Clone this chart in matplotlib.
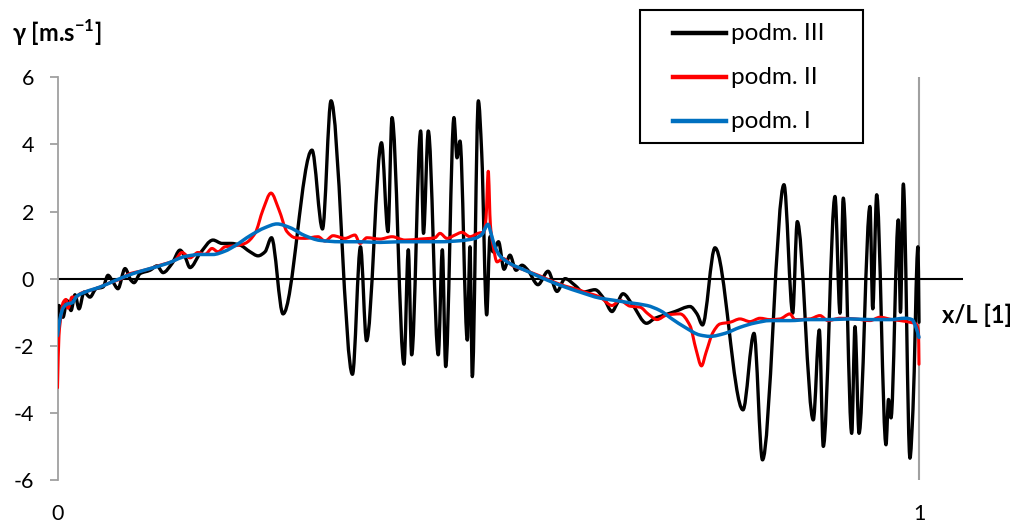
import numpy as np
import matplotlib
matplotlib.use("Agg")
import matplotlib.pyplot as plt
from matplotlib.path import Path
from matplotlib.patches import PathPatch, Rectangle
from matplotlib.lines import Line2D

plt.rcParams['font.family'] = ['Lato', 'DejaVu Sans']
plt.rcParams['mathtext.fontset'] = 'custom'
plt.rcParams['mathtext.rm'] = 'Lato'
plt.rcParams['mathtext.bf'] = 'Lato:bold'

# ---- data -------------------------------------------------------------
x_III = [0.0000, 0.0017, 0.0064, 0.0110, 0.0157, 0.0203, 0.0250, 0.0308, 0.0377, 0.0447,
         0.0528, 0.0586, 0.0644, 0.0702, 0.0784, 0.0853, 0.0888, 0.0958, 0.1074, 0.1155,
         0.1225, 0.1329, 0.1422, 0.1480, 0.1538, 0.1654, 0.1805, 0.1910, 0.2014, 0.2118,
         0.2235, 0.2328, 0.2409, 0.2484, 0.2618, 0.2954, 0.3076, 0.3175, 0.3424, 0.3517,
         0.3587, 0.3761, 0.3836, 0.3883, 0.4022, 0.4072, 0.4111, 0.4216, 0.4248, 0.4304,
         0.4420, 0.4467, 0.4506, 0.4602, 0.4637, 0.4672, 0.4757, 0.4788, 0.4815, 0.4885,
         0.4924, 0.4982, 0.5020, 0.5055, 0.5119, 0.5183, 0.5252, 0.5322, 0.5392, 0.5461,
         0.5577, 0.5694, 0.5798, 0.5891, 0.6007, 0.6100, 0.6239, 0.6344, 0.6437, 0.6494,
         0.6564, 0.6680, 0.6837, 0.6936, 0.7028, 0.7168, 0.7342, 0.7423, 0.7487, 0.7632,
         0.7957, 0.8085, 0.8183, 0.8433, 0.8534, 0.8587, 0.8773, 0.8843, 0.8889, 0.9025,
         0.9083, 0.9121, 0.9219, 0.9257, 0.9304, 0.9431, 0.9463, 0.9509, 0.9617, 0.9646,
         0.9675, 0.9760, 0.9785, 0.9818, 0.9895, 0.9930, 0.9988, 1.0000]
y_III = [-1.35, -0.80, -1.15, -0.65, -0.95, -0.48, -0.90, -0.40, -0.55, -0.30,
         -0.25, 0.10, -0.10, -0.30, 0.30, -0.05, -0.12, 0.15, 0.25, 0.38,
         0.18, 0.45, 0.85, 0.65, 0.33, 0.75, 1.15, 1.05, 1.05, 1.00,
         0.80, 0.68, 0.80, 1.22, -1.05, 3.83, 1.48, 5.30, -2.85, 0.95,
         -1.85, 4.05, 1.40, 4.80, -2.55, 0.86, -2.27, 4.40, 1.35, 4.40,
         -2.27, 0.86, -2.62, 4.80, 3.60, 4.10, -1.83, 0.95, -2.92, 5.30,
         3.75, -1.08, 1.25, 0.80, 1.10, 0.28, 0.70, 0.25, 0.40, 0.25,
         -0.18, 0.22, -0.38, 0.00, -0.20, -0.40, -0.33, -0.60, -0.98, -0.75,
         -0.45, -0.80, -1.33, -1.18, -1.10, -0.98, -0.83, -1.05, -1.38, 0.92,
         -3.91, -1.63, -5.40, 2.80, -1.03, 1.70, -4.21, -1.53, -5.00, 2.45,
         -1.03, 2.40, -4.61, -1.43, -4.61, 2.15, -0.90, 2.50, -4.95, -3.60,
         -4.15, 1.75, -1.00, 2.82, -5.35, -3.90, 0.95, -1.30]

x_II = [0.0000, 0.0017, 0.0041, 0.0064, 0.0099, 0.0122, 0.0168, 0.0215, 0.0261, 0.0377,
        0.0493, 0.0609, 0.0725, 0.0842, 0.0958, 0.1074, 0.1190, 0.1364, 0.1445, 0.1538,
        0.1631, 0.1712, 0.1793, 0.1863, 0.1944, 0.2060, 0.2176, 0.2293, 0.2385, 0.2478,
        0.2571, 0.2664, 0.2757, 0.2873, 0.3024, 0.3105, 0.3198, 0.3337, 0.3453, 0.3511,
        0.3592, 0.3743, 0.3883, 0.4034, 0.4208, 0.4382, 0.4440, 0.4521, 0.4614, 0.4695,
        0.4788, 0.4881, 0.4951, 0.4974, 0.5000, 0.5025, 0.5055, 0.5102, 0.5171, 0.5276,
        0.5427, 0.5601, 0.5717, 0.5891, 0.6007, 0.6123, 0.6297, 0.6437, 0.6529, 0.6646,
        0.6762, 0.6855, 0.6959, 0.7075, 0.7226, 0.7342, 0.7411, 0.7475, 0.7528, 0.7609,
        0.7690, 0.7806, 0.7922, 0.8038, 0.8154, 0.8270, 0.8386, 0.8502, 0.8560, 0.8734,
        0.8850, 0.8943, 0.9083, 0.9257, 0.9431, 0.9547, 0.9687, 0.9782, 0.9895, 0.9965,
        0.9994, 1.0000]
y_II = [-3.25, -1.70, -1.10, -0.72, -0.62, -0.88, -0.55, -0.55, -0.45, -0.35,
        -0.25, -0.12, -0.02, 0.15, 0.22, 0.30, 0.40, 0.55, 0.78, 0.62,
        0.78, 0.72, 0.90, 0.80, 0.95, 0.98, 1.05, 1.35, 2.05, 2.55,
        2.05, 1.40, 1.22, 1.20, 1.25, 1.12, 1.28, 1.20, 1.30, 1.05,
        1.22, 1.18, 1.25, 1.15, 1.18, 1.22, 1.35, 1.20, 1.30, 1.38,
        1.25, 1.35, 1.40, 1.80, 3.20, 1.60, 1.00, 0.50, 0.60, 0.40,
        0.25, 0.08, -0.05, -0.22, -0.30, -0.40, -0.55, -0.80, -0.65, -0.82,
        -0.85, -1.05, -1.22, -1.08, -1.05, -1.40, -2.10, -2.60, -2.20, -1.60,
        -1.35, -1.30, -1.20, -1.28, -1.18, -1.22, -1.20, -1.05, -1.22, -1.20,
        -1.10, -1.25, -1.18, -1.20, -1.25, -1.15, -1.22, -1.25, -1.30, -1.35,
        -1.60, -2.55]

x_I = [0.0000, 0.0029, 0.0064, 0.0110, 0.0168, 0.0226, 0.0319, 0.0493, 0.0667, 0.0876,
       0.1074, 0.1271, 0.1480, 0.1654, 0.1805, 0.1944, 0.2060, 0.2235, 0.2409, 0.2548,
       0.2699, 0.2873, 0.3047, 0.3279, 0.3511, 0.3743, 0.3976, 0.4208, 0.4440, 0.4672,
       0.4846, 0.4927, 0.4997, 0.5032, 0.5078, 0.5136, 0.5252, 0.5427, 0.5682, 0.5891,
       0.6065, 0.6297, 0.6448, 0.6646, 0.6843, 0.6994, 0.7133, 0.7284, 0.7458, 0.7574,
       0.7748, 0.7922, 0.8096, 0.8270, 0.8502, 0.8734, 0.8966, 0.9199, 0.9431, 0.9664,
       0.9838, 0.9919, 0.9965, 1.0000]
y_I = [-1.70, -1.20, -0.88, -0.76, -0.72, -0.52, -0.40, -0.25, -0.06, 0.15,
       0.30, 0.45, 0.66, 0.72, 0.72, 0.82, 0.98, 1.28, 1.52, 1.63,
       1.52, 1.28, 1.14, 1.10, 1.10, 1.08, 1.10, 1.10, 1.10, 1.13,
       1.20, 1.32, 1.62, 1.35, 0.95, 0.68, 0.45, 0.25, -0.04, -0.25,
       -0.40, -0.58, -0.64, -0.72, -0.80, -0.95, -1.20, -1.45, -1.68, -1.72,
       -1.63, -1.45, -1.32, -1.25, -1.25, -1.22, -1.22, -1.20, -1.22, -1.22,
       -1.18, -1.22, -1.45, -1.75]

series = [("podm. III", x_III, y_III, "#000000", 2.4),
          ("podm. II", x_II, y_II, "#ff0000", 2.2),
          ("podm. I", x_I, y_I, "#0070c0", 2.5)]

y_ticks = [-6, -4, -2, 0, 2, 4, 6]
x_ticks = [0, 1]


def smooth_path(xs, ys):
    """Smoothed line through the points as cubic Bezier segments
    (monotone tangents, so extremes stay at the given values)."""
    xs = np.asarray(xs, float)
    ys = np.asarray(ys, float)
    h = np.diff(xs)
    d = np.diff(ys) / h
    n = len(xs)
    m = np.zeros(n)
    m[0], m[-1] = d[0], d[-1]
    for k in range(1, n - 1):
        if d[k - 1] * d[k] > 0:
            w1 = 2 * h[k] + h[k - 1]
            w2 = h[k] + 2 * h[k - 1]
            m[k] = (w1 + w2) / (w1 / d[k - 1] + w2 / d[k])
    verts = [(xs[0], ys[0])]
    codes = [Path.MOVETO]
    for k in range(n - 1):
        verts += [(xs[k] + h[k] / 3, ys[k] + m[k] * h[k] / 3),
                  (xs[k + 1] - h[k] / 3, ys[k + 1] - m[k + 1] * h[k] / 3),
                  (xs[k + 1], ys[k + 1])]
        codes += [Path.CURVE4] * 3
    return Path(verts, codes)


# ---- figure -----------------------------------------------------------
W, H = 1015, 528
fig = plt.figure(figsize=(W / 100, H / 100), dpi=100)
ax = fig.add_axes([57.5 / W, 48 / H, 905.5 / W, 402.7 / H])
ax.set_xlim(0, 905.5 / 861.5)
ax.set_ylim(-6, 6)

grey = "#a0a0a0"
for s in ("top", "right", "bottom"):
    ax.spines[s].set_visible(False)
ax.spines["left"].set_color(grey)
ax.spines["left"].set_linewidth(1.3)

ax.axhline(0, color="black", lw=1.5, zorder=1)
ax.plot([1, 1], [-6, 6], color=grey, lw=1.5, zorder=1, solid_capstyle="butt")

ax.set_yticks(y_ticks)
ax.set_yticklabels([str(v) for v in y_ticks])
ax.tick_params(axis="y", direction="out", length=6, width=1.3, color=grey,
               labelsize=15.5, pad=11)
ax.set_xticks(x_ticks)
ax.set_xticklabels([str(v) for v in x_ticks])
ax.tick_params(axis="x", length=0, labelsize=15.5, pad=17)

for label, xs, ys, col, lw in series:
    ax.add_patch(PathPatch(smooth_path(xs, ys), fill=False, edgecolor=col, lw=lw,
                           capstyle="round", joinstyle="round", zorder=3))

fig.text(12 / W, 1 - 33 / H, r"γ [m.s$^{\mathbf{-1}}$]", fontsize=17,
         fontweight="bold", ha="left", va="center")
fig.text(942 / W, 1 - 315 / H, "x/L [1]", fontsize=17, fontweight="bold",
         ha="left", va="center")

# legend box
fig.patches.append(Rectangle((640 / W, 1 - 143 / H), 223 / W, 133 / H,
                             transform=fig.transFigure, fill=False,
                             edgecolor="black", lw=1.5))
for i, (label, xs, ys, col, lw) in enumerate(series):
    yc = 1 - (33 + 44 * i) / H
    fig.lines.append(Line2D([672.7 / W, 726 / W], [yc, yc], transform=fig.transFigure,
                            color=col, lw=3.2))
    fig.text(731 / W, yc, label, fontsize=17.5, ha="left", va="center")

fig.savefig("out.png", dpi=100)
